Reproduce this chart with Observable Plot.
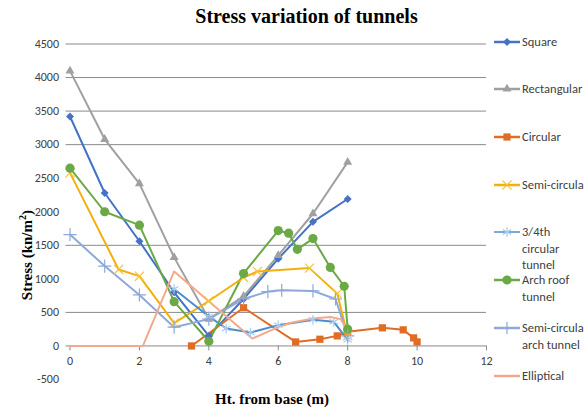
<!DOCTYPE html>
<html>
<head>
<meta charset="utf-8">
<script src="https://cdn.jsdelivr.net/npm/d3@7"></script>
<script src="https://cdn.jsdelivr.net/npm/@observablehq/plot@0.6"></script>
<style>
  html, body { margin: 0; padding: 0; background: #fff; }
  #wrap { position: relative; width: 587px; height: 411px; overflow: hidden; background: #fff; }
  #chart { position: absolute; left: 0; top: 0; }
  .title { position: absolute; left: 0; width: 613px; top: 5px; text-align: center;
    font: bold 20px "Liberation Serif", "Times New Roman", serif; color: #000; }
  .xlabel { position: absolute; left: 0; width: 544px; top: 391px; text-align: center;
    font: bold 15px "Liberation Serif", serif; color: #000; }
  .ylabel { position: absolute; left: 26px; top: 210px; transform: translate(-100%, -50%) rotate(-90deg); transform-origin: 100% 50%;
    font: bold 15px "Liberation Serif", serif; color: #000; white-space: nowrap; }
  .legend { position: absolute; left: 493px; top: 0; font: 12.5px "Carlito", "Liberation Sans Narrow", "Roboto", sans-serif; color: #404040; }
  .item { position: absolute; left: 0; white-space: nowrap; line-height: 16.5px; }
  .item svg { position: absolute; left: 0; top: 2px; }
  .item span { position: absolute; left: 29px; top: 0; }
</style>
</head>
<body>
<div id="wrap">
  <div id="chart"></div>
  <div class="title">Stress variation of tunnels</div>
  <div class="ylabel">Stress (kn/m<sup style="font-size:10px">2</sup>)</div>
  <div class="xlabel">Ht. from base (m)</div>
  <div class="legend" id="legend"></div>
</div>
<script>
// ---- data ----
const xTicks = [0, 2, 4, 6, 8, 10, 12];
const yTicks = [-500, 0, 500, 1000, 1500, 2000, 2500, 3000, 3500, 4000, 4500];
const gridValues = [0, 500, 1500, 3000, 3500, 4000, 4500];

const squareX = [0, 1, 2, 3, 4, 5, 6, 7, 8];
const squareY = [3420, 2280, 1560, 800, 150, 700, 1300, 1850, 2190];

const rectX = [0, 1, 2, 3, 4, 5, 6, 7, 8];
const rectY = [4100, 3080, 2420, 1320, 400, 740, 1350, 1970, 2740];

const circX = [3.5, 5, 6.5, 7.2, 7.7, 8, 9, 9.6, 9.9, 10];
const circY = [0, 570, 60, 100, 150, 210, 270, 240, 120, 60];

const semiX = [0, 1.4, 2, 3, 4, 5, 5.4, 6.9, 7.7, 8];
const semiY = [2580, 1140, 1040, 340, 670, 1020, 1110, 1160, 780, 150];

const q34X = [3, 4, 4.5, 5.2, 6, 7, 7.6, 8];
const q34Y = [850, 440, 260, 200, 310, 390, 360, 90];

const archX = [0, 1, 2, 3, 4, 5, 6, 6.3, 6.55, 7, 7.5, 7.9, 8];
const archY = [2650, 2000, 1800, 660, 70, 1080, 1720, 1680, 1440, 1600, 1170, 890, 250];

const semiArchX = [0, 1, 2, 3, 4, 5, 5.7, 6.1, 7, 7.65, 8];
const semiArchY = [1660, 1190, 760, 280, 400, 700, 810, 830, 820, 700, 150];

const ellX = [0, 2.1, 3, 5.25, 6, 6.4, 7, 7.5, 7.8, 8];
const ellY = [0, 0, 1110, 110, 280, 350, 410, 430, 400, 230];

const seriesNames = ["Square", "Rectangular", "Circular", "Semi-circular", "3/4th circular tunnel", "Arch roof tunnel", "Semi-circular arch tunnel", "Elliptical"];

// ---- styles ----
const styles = [
  {xs: squareX, ys: squareY, line: "#4472C4", mark: "#4472C4", symbol: "diamond2", r: 3.6, filled: true},
  {xs: rectX, ys: rectY, line: "#A0A0A0", mark: "#A0A0A0", symbol: "triangle2", r: 4.3, filled: true},
  {xs: circX, ys: circY, line: "#DF6D26", mark: "#DF6D26", symbol: "square2", r: 4.6, filled: true},
  {xs: semiX, ys: semiY, line: "#F2B00C", mark: "#F6C23A", symbol: "times", r: 4.2, filled: false},
  {xs: q34X, ys: q34Y, line: "#4C8ECB", mark: "#A9CBEC", symbol: "asterisk", r: 4.6, filled: false},
  {xs: archX, ys: archY, line: "#6AA945", mark: "#6AA945", symbol: "circle", r: 4.6, filled: true},
  {xs: semiArchX, ys: semiArchY, line: "#8EA8DB", mark: "#8EA8DB", symbol: "plus", r: 4.3, filled: false},
  {xs: ellX, ys: ellY, line: "#F4A98C", mark: null, symbol: null}
];

const series = styles.map((s, i) => ({
  ...s, name: seriesNames[i],
  data: s.xs.map((x, j) => ({x, y: s.ys[j]}))
}));

const marks = [
  Plot.ruleY(gridValues, {stroke: "#8a8a8a", strokeWidth: 1, insetLeft: -4}),
  Plot.ruleX(xTicks, {x: d => d, y1: 0, y2: 0, insetBottom: -5, stroke: "#8a8a8a", strokeWidth: 1}),
  Plot.text(xTicks, {x: d => d, y: 0, dy: 15, text: d => String(d), fill: "#404040",
    fontSize: 12, fontFamily: "Carlito, 'Liberation Sans Narrow', Roboto, sans-serif"}),
  Plot.axisY(yTicks, {tickSize: 0, tickPadding: 11, fontSize: 12, fill: "#404040",
    fontFamily: "Carlito, 'Liberation Sans Narrow', Roboto, sans-serif", label: null, tickFormat: d => String(d)})
];

for (const s of series) {
  marks.push(Plot.line(s.data, {x: "x", y: "y", stroke: s.line, strokeWidth: 2}));
}
for (const s of series) {
  if (!s.symbol) continue;
  if (s.filled) {
    marks.push(Plot.dot(s.data, {x: "x", y: "y", symbol: s.symbol, r: s.r, fill: s.mark, stroke: "none"}));
  } else {
    marks.push(Plot.dot(s.data, {x: "x", y: "y", symbol: s.symbol, r: s.r, fill: "none", stroke: s.mark, strokeWidth: 1.2}));
  }
}

const chart = Plot.plot({
  width: 587,
  height: 411,
  marginLeft: 69.5,
  marginRight: 101,
  marginTop: 43.5,
  marginBottom: 32,
  style: {background: "transparent", overflow: "visible"},
  x: {domain: [0, 12], axis: null},
  y: {domain: [-500, 4500], axis: null},
  marks
});
document.getElementById("chart").appendChild(chart);

// ---- legend ----
const legendLabels = ["Square", "Rectangular", "Circular", "Semi-circula", "3/4th<br>circular<br>tunnel", "Arch roof<br>tunnel", "Semi-circula<br>arch tunnel", "Elliptical"];
const legendTops = [34, 81, 129, 177, 224, 272, 320, 368];
const legend = document.getElementById("legend");
series.forEach((s, i) => {
  const item = document.createElement("div");
  item.className = "item";
  item.style.top = legendTops[i] + "px";
  let markSvg = "";
  if (s.symbol) {
    const symMap = {diamond2: d3.symbolDiamond2, triangle2: d3.symbolTriangle2, square2: d3.symbolSquare2,
      times: d3.symbolTimes, asterisk: d3.symbolAsterisk, circle: d3.symbolCircle, plus: d3.symbolPlus};
    const path = d3.symbol(symMap[s.symbol], Math.PI * s.r * s.r)();
    markSvg = s.filled
      ? `<path transform="translate(14,6)" d="${path}" fill="${s.mark}"/>`
      : `<path transform="translate(14,6)" d="${path}" fill="none" stroke="${s.mark}" stroke-width="1.2"/>`;
  }
  item.innerHTML = `<svg width="28" height="12"><line x1="1" x2="27" y1="6" y2="6" stroke="${s.line}" stroke-width="${i===4?1.5:2.5}"/>${markSvg}</svg><span>${legendLabels[i]}</span>`;
  legend.appendChild(item);
});
</script>
</body>
</html>
